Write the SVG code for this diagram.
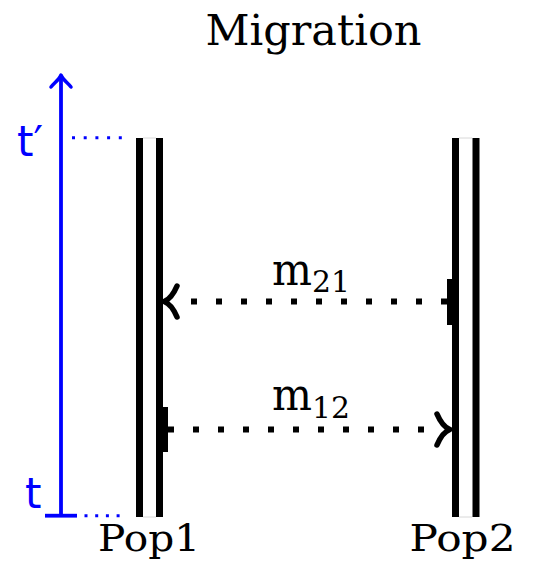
<svg xmlns="http://www.w3.org/2000/svg" width="534" height="567" viewBox="0 0 534 567">
<style>
.pop{stroke:#000;stroke-width:7;fill:none}
.lbl{font-family:"DejaVu Serif",serif;fill:#000}
.blue{stroke:#0000ff;fill:none}
.conn{stroke:#000;stroke-width:6;fill:none}
.dots{stroke-dasharray:6 19}
.head{stroke:#000;stroke-width:5.5;fill:none;stroke-linecap:round;stroke-linejoin:round}
.edge{stroke:#d8d8d8;stroke-width:1}
</style>
<rect width="534" height="567" fill="#fff"/>
<text class="lbl" x="313.5" y="45" font-size="43" text-anchor="middle">Migration</text>
<g id="axis">
  <line class="blue" x1="61" y1="77" x2="61" y2="516" stroke-width="3.8"/>
  <path class="blue" stroke-width="3.5" stroke-linecap="round" stroke-linejoin="round" d="M51,87 C54,83 59,80 61,75 C63,80 68,83 71,87"/>
  <line class="blue" x1="45" y1="515.7" x2="77" y2="515.7" stroke-width="3.8"/>
  <line class="blue" x1="72" y1="137.7" x2="125" y2="137.7" stroke-width="3" stroke-dasharray="3 8.7"/>
  <line class="blue" x1="84.5" y1="515.7" x2="125" y2="515.7" stroke-width="3" stroke-dasharray="3 7.7"/>
  <text x="17" y="155.5" font-family="DejaVu Sans,sans-serif" font-size="42" fill="#0000ff">t′</text>
  <text x="25" y="507.5" font-family="DejaVu Sans,sans-serif" font-size="42" fill="#0000ff">t</text>
</g>
<g id="pop1">
  <line class="edge" x1="143" y1="138" x2="156" y2="138"/>
  <line class="edge" x1="143" y1="517" x2="156" y2="517"/>
  <line class="pop" x1="139.5" y1="138" x2="139.5" y2="517"/>
  <line class="pop" x1="159.5" y1="138" x2="159.5" y2="517"/>
  <text class="lbl" x="149" y="551" font-size="37" text-anchor="middle" textLength="102" lengthAdjust="spacingAndGlyphs">Pop1</text>
</g>
<g id="pop2">
  <line class="edge" x1="459" y1="138" x2="472" y2="138"/>
  <line class="edge" x1="459" y1="517" x2="472" y2="517"/>
  <line class="pop" x1="455.5" y1="138" x2="455.5" y2="517"/>
  <line class="pop" x1="476" y1="138" x2="476" y2="517"/>
  <text class="lbl" x="462.5" y="551" font-size="37" text-anchor="middle" textLength="106" lengthAdjust="spacingAndGlyphs">Pop2</text>
</g>
<g id="connectors">
  <g id="m21">
    <rect x="447" y="279" width="6" height="46" fill="#000"/>
    <line class="conn dots" x1="447" y1="301.5" x2="175" y2="301.5"/>
    <path class="head" d="M177,286 C174,293 170,299.5 164,301.5 C170,303.5 174,310 177,317"/>
    <text class="lbl" x="272" y="285" font-size="45" textLength="40" lengthAdjust="spacingAndGlyphs">m</text>
    <text class="lbl" x="312" y="291.7" font-size="29" textLength="38" lengthAdjust="spacingAndGlyphs">21</text>
  </g>
  <g id="m12">
    <rect x="162" y="407" width="6" height="45" fill="#000"/>
    <line class="conn dots" x1="168" y1="429.5" x2="440" y2="429.5"/>
    <path class="head" d="M437,414 C440,421 444,427.5 450,429.5 C444,431.5 440,438 437,445"/>
    <text class="lbl" x="272" y="410" font-size="45" textLength="40" lengthAdjust="spacingAndGlyphs">m</text>
    <text class="lbl" x="312" y="418.3" font-size="29" textLength="38" lengthAdjust="spacingAndGlyphs">12</text>
  </g>
</g>
</svg>
